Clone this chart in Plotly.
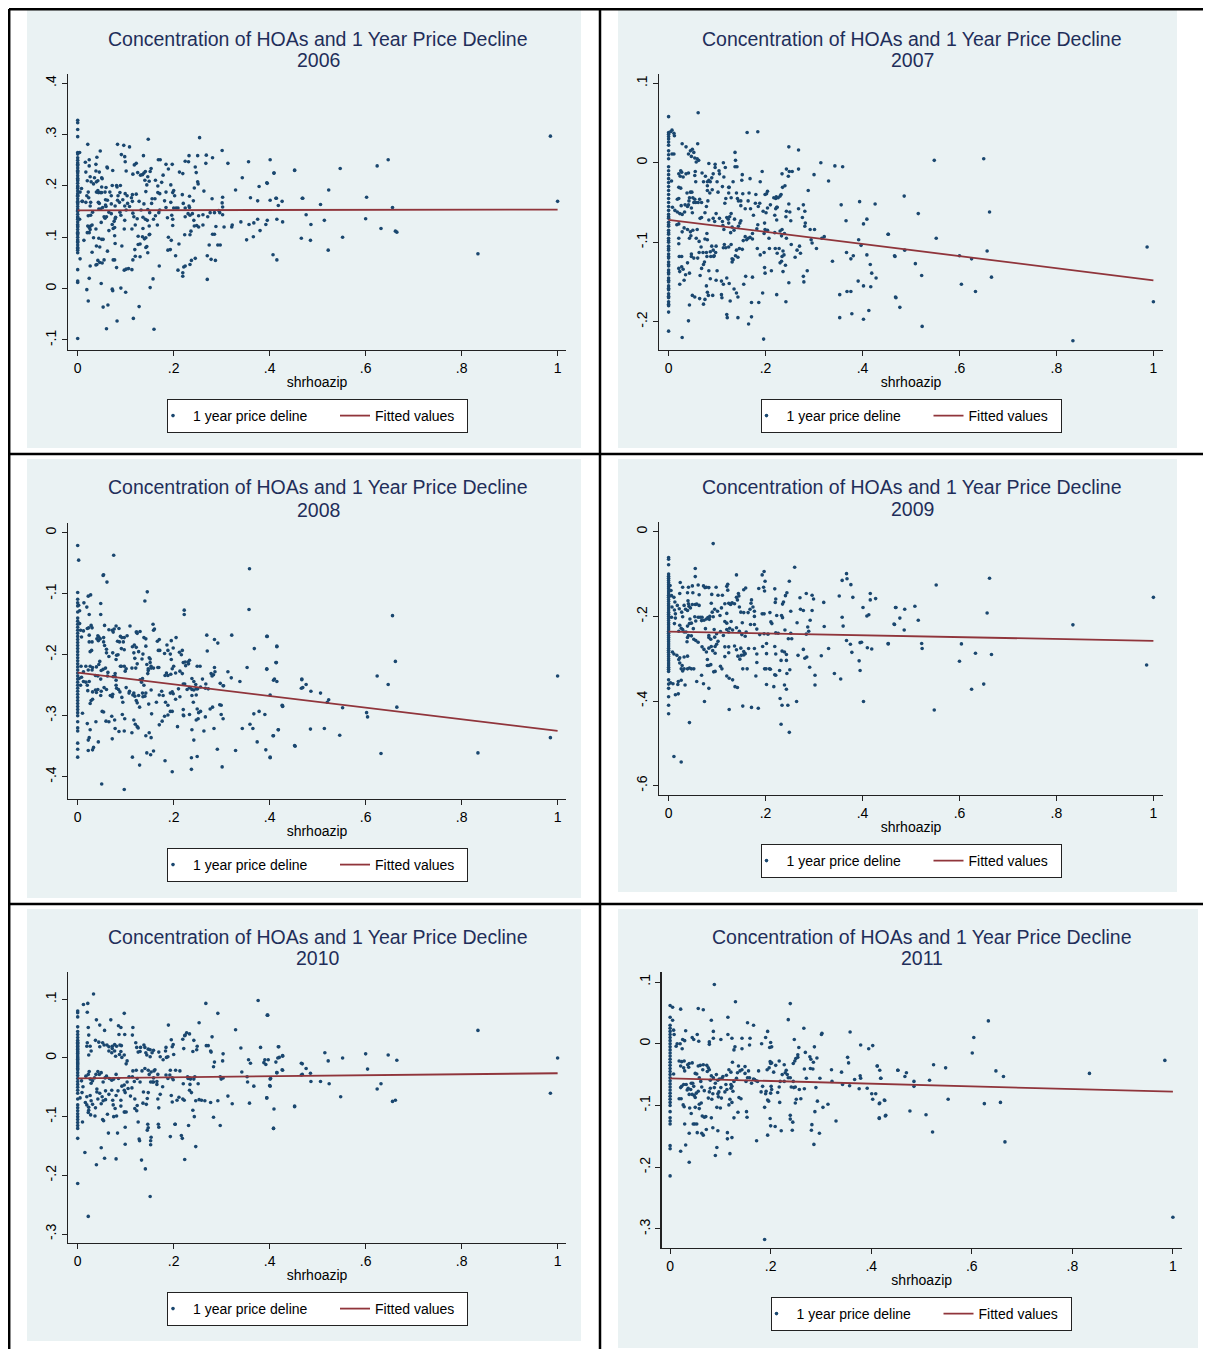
import plotly.graph_objects as go

# page offset: the browser page keeps its default 8 px body margin
PAGE_OFF = 8
W, H = 1211 - PAGE_OFF, 1349 - PAGE_OFF

# ------------------------------------------------------------------ data
years = ["2006", "2007", "2008", "2009", "2010", "2011"]
series_name = "1 year price deline"
fit_name = "Fitted values"

# fitted (OLS) line: value at shrhoazip = 0 and = 1
fit_at0 = [0.1526, -0.0718, -0.2295, -0.236, -0.0346, -0.056]
fit_at1 = [0.154, -0.148, -0.325, -0.2577, -0.026, -0.0777]
fit_x = [0, 1]

xtick_vals = [0, 0.2, 0.4, 0.6, 0.8, 1]
xtick_text = ["0", ".2", ".4", ".6", ".8", "1"]
ytick_vals = [
    [-0.1, 0, 0.1, 0.2, 0.3, 0.4],
    [-0.2, -0.1, 0, 0.1],
    [-0.4, -0.3, -0.2, -0.1, 0],
    [-0.6, -0.4, -0.2, 0],
    [-0.3, -0.2, -0.1, 0, 0.1],
    [-0.3, -0.2, -0.1, 0, 0.1],
]
ytick_text = [
    ["-.1", "0", ".1", ".2", ".3", ".4"],
    ["-.2", "-.1", "0", ".1"],
    ["-.4", "-.3", "-.2", "-.1", "0"],
    ["-.6", "-.4", "-.2", "0"],
    ["-.3", "-.2", "-.1", "0", ".1"],
    ["-.3", "-.2", "-.1", "0", ".1"],
]

# price decline of the zips whose shrhoazip is 0
at0_2006 = [0.328, 0.323, 0.31, 0.296, 0.265, 0.262, 0.255, 0.25, 0.245, 0.242, 0.24, 0.235, 0.23, 0.228,
            0.225, 0.22, 0.215, 0.212, 0.21, 0.205, 0.2, 0.198, 0.195, 0.19, 0.185, 0.182, 0.18, 0.175, 0.17,
            0.168, 0.165, 0.16, 0.155, 0.152, 0.15, 0.145, 0.14, 0.138, 0.135, 0.13, 0.125, 0.122, 0.12, 0.115,
            0.11, 0.108, 0.105, 0.1, 0.095, 0.092, 0.09, 0.085, 0.08, 0.078, 0.075, 0.07, 0.037, 0.015, 0.012,
            -0.097]
at0_2007 = [0.058, 0.038, 0.036, 0.033, 0.03, 0.026, 0.022, 0.015, 0.01, 0.005, -0.005, -0.01, -0.015, -0.02,
            -0.025, -0.03, -0.035, -0.04, -0.045, -0.05, -0.055, -0.06, -0.065, -0.068, -0.07, -0.075, -0.078,
            -0.08, -0.085, -0.088, -0.09, -0.095, -0.098, -0.1, -0.105, -0.108, -0.11, -0.115, -0.118, -0.12,
            -0.125, -0.128, -0.13, -0.135, -0.138, -0.14, -0.145, -0.148, -0.15, -0.155, -0.158, -0.16, -0.165,
            -0.168, -0.17, -0.175, -0.178, -0.18, -0.188, -0.212]
at0_2008 = [-0.021, -0.098, -0.109, -0.115, -0.12, -0.13, -0.14, -0.145, -0.15, -0.155, -0.16, -0.165, -0.17,
            -0.175, -0.18, -0.185, -0.19, -0.195, -0.2, -0.205, -0.21, -0.215, -0.22, -0.225, -0.23, -0.235,
            -0.24, -0.245, -0.25, -0.255, -0.26, -0.265, -0.27, -0.275, -0.28, -0.285, -0.29, -0.295, -0.3,
            -0.31, -0.32, -0.325, -0.345, -0.355, -0.368]
at0_2009 = [-0.061, -0.065, -0.078, -0.1, -0.105, -0.11, -0.115, -0.12, -0.125, -0.13, -0.135, -0.14, -0.145,
            -0.15, -0.155, -0.16, -0.165, -0.17, -0.175, -0.18, -0.185, -0.19, -0.195, -0.2, -0.205, -0.21,
            -0.215, -0.22, -0.225, -0.23, -0.235, -0.24, -0.245, -0.25, -0.255, -0.26, -0.265, -0.27, -0.275,
            -0.28, -0.285, -0.29, -0.295, -0.3, -0.305, -0.31, -0.315, -0.32, -0.325, -0.33, -0.35, -0.36,
            -0.37, -0.39, -0.41, -0.43]
at0_2010 = [0.08, 0.077, 0.07, 0.053, 0.045, 0.04, 0.035, 0.03, 0.027, 0.025, 0.022, 0.02, 0.017, 0.015, 0.012,
            0.01, 0.008, 0.005, 0.002, 0.0, -0.002, -0.005, -0.008, -0.01, -0.012, -0.015, -0.018, -0.02,
            -0.025, -0.03, -0.035, -0.04, -0.045, -0.05, -0.055, -0.06, -0.07, -0.08, -0.085, -0.09, -0.095,
            -0.1, -0.105, -0.11, -0.115, -0.12, -0.137, -0.214]
at0_2011 = [0.062, 0.043, 0.03, 0.025, 0.02, 0.015, 0.01, 0.005, 0.0, -0.005, -0.01, -0.015, -0.02, -0.025,
            -0.03, -0.035, -0.04, -0.045, -0.05, -0.055, -0.06, -0.065, -0.07, -0.075, -0.08, -0.085, -0.09,
            -0.095, -0.1, -0.11, -0.12, -0.125, -0.13, -0.165, -0.17, -0.214]

# (shrhoazip, 1 year price decline) of the zips whose shrhoazip is above 0
pts2006 = [
    (0.004, 0.265), (0.004, 0.135), (0.005, 0.058), (0.005, 0.188), (0.008, 0.195), (0.009, 0.17), (0.013, 0.094),
    (0.147, 0.291), (0.254, 0.294), (0.021, 0.281), (0.083, 0.281), (0.096, 0.279), (0.108, 0.276), (0.047, 0.268),
    (0.137, 0.259), (0.301, 0.269), (0.091, 0.261), (0.098, 0.257), (0.04, 0.256), (0.268, 0.26), (0.281, 0.255),
    (0.232, 0.259), (0.25, 0.259), (0.224, 0.248), (0.231, 0.247), (0.172, 0.251), (0.168, 0.251), (0.024, 0.251),
    (0.016, 0.246), (0.061, 0.237), (0.062, 0.235), (0.099, 0.247), (0.038, 0.242), (0.024, 0.239), (0.122, 0.244),
    (0.118, 0.241), (0.184, 0.242), (0.197, 0.242), (0.189, 0.233), (0.245, 0.237), (0.267, 0.244), (0.313, 0.244),
    (0.356, 0.247), (0.401, 0.251), (0.452, 0.231), (0.409, 0.225), (0.073, 0.23), (0.038, 0.229), (0.045, 0.227),
    (0.017, 0.227), (0.101, 0.229), (0.153, 0.234), (0.151, 0.228), (0.125, 0.226), (0.138, 0.225), (0.141, 0.228),
    (0.131, 0.221), (0.135, 0.222), (0.146, 0.218), (0.14, 0.211), (0.115, 0.223), (0.212, 0.227), (0.219, 0.224),
    (0.247, 0.226), (0.25, 0.208), (0.251, 0.204), (0.178, 0.221), (0.162, 0.211), (0.149, 0.209), (0.026, 0.218),
    (0.02, 0.21), (0.035, 0.216), (0.039, 0.208), (0.05, 0.216), (0.051, 0.214), (0.028, 0.208), (0.033, 0.204),
    (0.042, 0.21), (0.343, 0.216), (0.378, 0.199), (0.394, 0.206), (0.329, 0.192), (0.263, 0.19), (0.175, 0.207),
    (0.167, 0.2), (0.194, 0.202), (0.144, 0.202), (0.072, 0.201), (0.081, 0.201), (0.089, 0.201), (0.05, 0.198),
    (0.059, 0.197), (0.082, 0.198), (0.022, 0.188), (0.039, 0.188), (0.043, 0.187), (0.047, 0.187), (0.05, 0.187),
    (0.057, 0.188), (0.042, 0.191), (0.067, 0.188), (0.088, 0.187), (0.084, 0.181), (0.099, 0.185), (0.122, 0.184),
    (0.103, 0.181), (0.114, 0.183), (0.142, 0.189), (0.167, 0.187), (0.171, 0.185), (0.184, 0.188), (0.198, 0.187),
    (0.2, 0.191), (0.218, 0.183), (0.202, 0.181), (0.233, 0.18), (0.243, 0.196), (0.241, 0.171), (0.28, 0.175),
    (0.302, 0.178), (0.301, 0.167), (0.302, 0.159), (0.36, 0.177), (0.375, 0.171), (0.401, 0.172), (0.413, 0.176),
    (0.426, 0.17), (0.418, 0.162), (0.468, 0.176), (0.019, 0.181), (0.023, 0.177), (0.01, 0.17), (0.017, 0.168),
    (0.027, 0.168), (0.043, 0.168), (0.045, 0.166), (0.058, 0.173), (0.062, 0.172), (0.058, 0.163), (0.059, 0.16),
    (0.07, 0.181), (0.07, 0.165), (0.083, 0.172), (0.087, 0.168), (0.094, 0.173), (0.104, 0.166), (0.112, 0.177),
    (0.114, 0.17), (0.128, 0.17), (0.138, 0.165), (0.146, 0.154), (0.155, 0.175), (0.161, 0.175), (0.154, 0.166),
    (0.181, 0.171), (0.184, 0.158), (0.194, 0.168), (0.2, 0.157), (0.205, 0.157), (0.209, 0.157), (0.22, 0.166),
    (0.224, 0.157), (0.232, 0.161), (0.233, 0.158), (0.026, 0.161), (0.044, 0.155), (0.048, 0.155), (0.052, 0.158),
    (0.031, 0.149), (0.078, 0.161), (0.088, 0.149), (0.098, 0.161), (0.101, 0.153), (0.108, 0.16), (0.115, 0.147),
    (0.132, 0.153), (0.022, 0.142), (0.027, 0.143), (0.055, 0.14), (0.06, 0.14), (0.057, 0.137), (0.065, 0.149),
    (0.07, 0.146), (0.078, 0.136), (0.079, 0.139), (0.076, 0.131), (0.09, 0.143), (0.098, 0.133), (0.117, 0.14),
    (0.124, 0.136), (0.136, 0.139), (0.141, 0.135), (0.145, 0.133), (0.15, 0.148), (0.158, 0.135), (0.162, 0.142),
    (0.169, 0.148), (0.171, 0.153), (0.187, 0.138), (0.196, 0.143), (0.198, 0.135), (0.224, 0.14), (0.23, 0.146),
    (0.239, 0.146), (0.234, 0.143), (0.242, 0.133), (0.252, 0.142), (0.261, 0.144), (0.276, 0.148), (0.285, 0.148),
    (0.296, 0.148), (0.294, 0.152), (0.271, 0.14), (0.302, 0.144), (0.305, 0.12), (0.321, 0.12), (0.322, 0.124),
    (0.34, 0.13), (0.357, 0.125), (0.367, 0.128), (0.375, 0.135), (0.38, 0.113), (0.392, 0.125), (0.395, 0.133),
    (0.415, 0.135), (0.427, 0.13), (0.021, 0.122), (0.024, 0.119), (0.027, 0.122), (0.03, 0.124), (0.02, 0.109),
    (0.024, 0.109), (0.026, 0.115), (0.038, 0.116), (0.049, 0.129), (0.065, 0.113), (0.072, 0.125), (0.077, 0.103),
    (0.077, 0.119), (0.074, 0.117), (0.097, 0.116), (0.113, 0.116), (0.12, 0.124), (0.136, 0.117), (0.149, 0.122),
    (0.15, 0.106), (0.166, 0.124), (0.198, 0.123), (0.223, 0.105), (0.234, 0.105), (0.236, 0.112), (0.243, 0.122),
    (0.248, 0.123), (0.252, 0.12), (0.261, 0.124), (0.281, 0.106), (0.285, 0.106), (0.288, 0.121), (0.352, 0.095),
    (0.366, 0.101), (0.466, 0.098), (0.033, 0.099), (0.039, 0.083), (0.044, 0.098), (0.05, 0.096), (0.053, 0.096),
    (0.046, 0.081), (0.078, 0.088), (0.092, 0.083), (0.126, 0.102), (0.126, 0.086), (0.135, 0.101), (0.139, 0.097),
    (0.142, 0.099), (0.142, 0.08), (0.144, 0.082), (0.149, 0.105), (0.13, 0.087), (0.119, 0.076), (0.189, 0.1),
    (0.195, 0.094), (0.193, 0.076), (0.188, 0.075), (0.204, 0.064), (0.211, 0.087), (0.274, 0.085), (0.292, 0.085),
    (0.297, 0.085), (0.03, 0.071), (0.062, 0.073), (0.055, 0.056), (0.042, 0.055), (0.038, 0.046), (0.04, 0.047),
    (0.046, 0.051), (0.051, 0.05), (0.026, 0.044), (0.074, 0.056), (0.077, 0.056), (0.081, 0.041), (0.097, 0.036),
    (0.101, 0.038), (0.106, 0.039), (0.113, 0.037), (0.115, 0.056), (0.12, 0.063), (0.13, 0.062), (0.146, 0.07),
    (0.17, 0.044), (0.209, 0.036), (0.219, 0.031), (0.221, 0.042), (0.224, 0.044), (0.219, 0.024), (0.234, 0.047),
    (0.237, 0.055), (0.245, 0.059), (0.27, 0.064), (0.278, 0.057), (0.287, 0.055), (0.024, 0.02), (0.019, -0.002),
    (0.022, -0.024), (0.049, 0.01), (0.072, -0.001), (0.073, -0.004), (0.09, 0.001), (0.1, -0.007), (0.053, -0.036),
    (0.063, -0.032), (0.06, -0.078), (0.082, -0.063), (0.116, -0.058), (0.128, -0.035), (0.151, 0.002),
    (0.157, 0.019), (0.159, -0.079), (0.27, 0.018),
    (0.985, 0.297), (1.0, 0.17), (0.834, 0.068), (0.647, 0.251), (0.624, 0.239), (0.656, 0.158), (0.662, 0.112),
    (0.665, 0.11), (0.632, 0.117), (0.602, 0.178), (0.6, 0.136), (0.547, 0.234), (0.523, 0.192), (0.506, 0.164),
    (0.514, 0.133), (0.522, 0.075), (0.552, 0.1), (0.485, 0.094), (0.486, 0.125), (0.476, 0.144), (0.469, 0.176),
    (0.452, 0.23), (0.407, 0.066), (0.415, 0.056), (0.395, 0.205), (0.409, 0.225), (0.414, 0.176),
]

pts2007 = [
    (0.061, 0.063), (0.007, 0.041), (0.011, 0.037), (0.012, 0.034), (0.004, 0.039), (0.028, 0.024), (0.036, 0.02),
    (0.045, 0.015), (0.041, 0.011), (0.049, 0.017), (0.052, 0.013), (0.047, 0.008), (0.06, 0.024), (0.054, 0.006),
    (0.059, 0.005), (0.062, 0.003), (0.057, 0.001), (0.007, 0.011), (0.011, 0.011), (0.162, 0.038), (0.184, 0.039),
    (0.137, 0.013), (0.138, 0.003), (0.248, 0.02), (0.268, 0.016), (0.314, 0.0), (0.343, -0.004), (0.359, -0.005),
    (0.33, -0.023), (0.083, -0.001), (0.096, -0.002), (0.096, -0.006), (0.113, 0.0), (0.117, -0.006),
    (0.104, -0.01), (0.137, -0.005), (0.141, -0.005), (0.025, -0.01), (0.027, -0.012), (0.024, -0.017),
    (0.021, -0.014), (0.03, -0.018), (0.036, -0.014), (0.041, -0.013), (0.055, -0.011), (0.069, -0.013),
    (0.076, -0.017), (0.083, -0.022), (0.092, -0.014), (0.089, -0.019), (0.08, -0.024), (0.105, -0.014),
    (0.114, -0.018), (0.124, -0.031), (0.133, -0.024), (0.151, -0.022), (0.152, -0.015), (0.168, -0.02),
    (0.189, -0.024), (0.193, -0.011), (0.234, -0.014), (0.243, -0.008), (0.249, -0.011), (0.255, -0.011),
    (0.247, -0.017), (0.24, -0.029), (0.235, -0.031), (0.232, -0.04), (0.268, -0.008), (0.3, -0.015),
    (0.288, -0.035), (0.204, -0.036), (0.199, -0.04), (0.18, -0.04), (0.185, -0.055), (0.188, -0.051),
    (0.217, -0.044), (0.221, -0.045), (0.222, -0.043), (0.226, -0.044), (0.223, -0.056), (0.248, -0.052),
    (0.25, -0.062), (0.242, -0.068), (0.243, -0.061), (0.268, -0.058), (0.278, -0.053), (0.281, -0.061),
    (0.282, -0.076), (0.281, -0.08), (0.292, -0.084), (0.301, -0.084), (0.276, -0.069), (0.356, -0.053),
    (0.394, -0.049), (0.426, -0.052), (0.366, -0.073), (0.402, -0.077), (0.409, -0.071), (0.453, -0.09),
    (0.466, -0.117), (0.468, -0.169), (0.392, -0.097), (0.397, -0.104), (0.367, -0.113), (0.381, -0.117),
    (0.376, -0.121), (0.409, -0.116), (0.416, -0.128), (0.419, -0.139), (0.428, -0.145), (0.338, -0.124),
    (0.321, -0.093), (0.294, -0.097), (0.296, -0.101), (0.305, -0.108), (0.316, -0.095), (0.353, -0.166),
    (0.368, -0.162), (0.376, -0.162), (0.378, -0.19), (0.402, -0.155), (0.417, -0.156), (0.413, -0.186),
    (0.353, -0.195), (0.402, -0.197), (0.391, -0.149),
    (0.006, -0.023), (0.021, -0.031), (0.025, -0.032), (0.018, -0.046), (0.021, -0.045), (0.008, -0.056),
    (0.013, -0.06), (0.018, -0.062), (0.023, -0.064), (0.028, -0.065), (0.026, -0.054), (0.034, -0.053),
    (0.039, -0.055), (0.033, -0.062), (0.038, -0.038), (0.045, -0.037), (0.048, -0.037), (0.05, -0.044),
    (0.043, -0.044), (0.054, -0.046), (0.052, -0.05), (0.056, -0.05), (0.042, -0.048), (0.041, -0.053),
    (0.047, -0.057), (0.049, -0.063), (0.061, -0.05), (0.064, -0.046), (0.068, -0.05), (0.056, -0.024),
    (0.054, -0.016), (0.072, -0.024), (0.08, -0.029), (0.086, -0.024), (0.08, -0.035), (0.085, -0.038),
    (0.09, -0.034), (0.1, -0.024), (0.102, -0.037), (0.111, -0.03), (0.118, -0.045), (0.116, -0.051),
    (0.125, -0.031), (0.124, -0.038), (0.129, -0.044), (0.14, -0.038), (0.142, -0.045), (0.144, -0.048),
    (0.149, -0.048), (0.149, -0.054), (0.153, -0.039), (0.158, -0.058), (0.166, -0.038), (0.164, -0.048),
    (0.169, -0.058), (0.175, -0.066), (0.179, -0.051), (0.195, -0.061), (0.201, -0.063), (0.204, -0.057),
    (0.202, -0.039), (0.21, -0.053), (0.221, -0.058), (0.219, -0.066), (0.223, -0.072), (0.224, -0.056),
    (0.23, -0.042), (0.081, -0.048), (0.078, -0.055), (0.075, -0.063), (0.068, -0.069), (0.065, -0.07),
    (0.083, -0.072), (0.092, -0.07), (0.098, -0.064), (0.095, -0.074), (0.105, -0.07), (0.111, -0.074),
    (0.12, -0.069), (0.123, -0.071), (0.129, -0.064), (0.126, -0.068), (0.124, -0.076), (0.112, -0.079),
    (0.114, -0.084), (0.131, -0.081), (0.147, -0.076), (0.144, -0.08), (0.149, -0.073), (0.136, -0.071),
    (0.128, -0.088), (0.135, -0.085), (0.173, -0.089), (0.182, -0.083), (0.184, -0.078), (0.198, -0.076),
    (0.197, -0.089), (0.199, -0.084), (0.204, -0.085), (0.207, -0.095), (0.219, -0.088), (0.23, -0.086),
    (0.234, -0.084), (0.233, -0.092), (0.239, -0.089), (0.243, -0.095), (0.252, -0.073), (0.017, -0.078),
    (0.021, -0.077), (0.028, -0.087), (0.032, -0.082), (0.021, -0.095), (0.021, -0.102), (0.039, -0.084),
    (0.045, -0.087), (0.043, -0.095), (0.046, -0.092), (0.05, -0.085), (0.059, -0.084), (0.057, -0.095),
    (0.063, -0.099), (0.067, -0.106), (0.075, -0.096), (0.079, -0.089), (0.08, -0.097), (0.089, -0.105),
    (0.092, -0.11), (0.098, -0.105), (0.093, -0.118), (0.097, -0.113), (0.113, -0.107), (0.115, -0.103),
    (0.118, -0.107), (0.124, -0.106), (0.129, -0.103), (0.133, -0.122), (0.131, -0.125), (0.14, -0.11),
    (0.146, -0.108), (0.152, -0.109), (0.154, -0.098), (0.161, -0.097), (0.158, -0.093), (0.164, -0.095),
    (0.168, -0.094), (0.173, -0.096), (0.183, -0.108), (0.189, -0.116), (0.197, -0.113), (0.208, -0.108),
    (0.22, -0.108), (0.224, -0.114), (0.228, -0.108), (0.236, -0.111), (0.234, -0.118), (0.238, -0.116),
    (0.253, -0.103), (0.261, -0.119), (0.265, -0.11), (0.27, -0.105), (0.272, -0.114), (0.286, -0.136),
    (0.278, -0.143), (0.279, -0.15), (0.23, -0.126), (0.233, -0.124), (0.236, -0.137), (0.241, -0.129),
    (0.248, -0.151), (0.198, -0.132), (0.199, -0.139), (0.212, -0.136), (0.173, -0.144), (0.159, -0.143),
    (0.155, -0.153), (0.022, -0.118), (0.027, -0.118), (0.021, -0.133), (0.027, -0.131), (0.023, -0.137),
    (0.03, -0.134), (0.032, -0.148), (0.023, -0.153), (0.035, -0.141), (0.039, -0.126), (0.043, -0.139),
    (0.047, -0.115), (0.047, -0.118), (0.052, -0.12), (0.06, -0.12), (0.063, -0.113), (0.071, -0.113),
    (0.078, -0.113), (0.072, -0.128), (0.068, -0.133), (0.065, -0.142), (0.074, -0.125), (0.079, -0.118),
    (0.086, -0.112), (0.087, -0.118), (0.094, -0.117), (0.083, -0.136), (0.086, -0.146), (0.098, -0.148),
    (0.1, -0.136), (0.109, -0.149), (0.113, -0.153), (0.12, -0.145), (0.125, -0.152), (0.138, -0.117),
    (0.131, -0.121), (0.143, -0.119), (0.078, -0.155), (0.08, -0.163), (0.082, -0.167), (0.075, -0.172),
    (0.072, -0.178), (0.049, -0.167), (0.054, -0.169), (0.064, -0.171), (0.043, -0.179), (0.041, -0.199),
    (0.091, -0.167), (0.109, -0.166), (0.11, -0.17), (0.127, -0.174), (0.14, -0.164), (0.143, -0.169),
    (0.135, -0.159), (0.12, -0.191), (0.121, -0.195), (0.143, -0.195), (0.165, -0.203), (0.171, -0.194),
    (0.171, -0.176), (0.186, -0.176), (0.194, -0.164), (0.196, -0.222), (0.223, -0.166), (0.242, -0.175),
    (0.028, -0.22),
    (0.987, -0.106), (1.0, -0.175), (0.834, -0.224), (0.65, 0.005), (0.548, 0.003), (0.662, -0.062),
    (0.657, -0.111), (0.666, -0.144), (0.633, -0.162), (0.604, -0.153), (0.6, -0.117), (0.625, -0.121),
    (0.552, -0.095), (0.515, -0.064), (0.486, -0.042), (0.453, -0.09), (0.467, -0.118), (0.487, -0.11),
    (0.509, -0.127), (0.522, -0.142), (0.523, -0.206), (0.469, -0.17), (0.477, -0.182),
]

pts2008 = [
    (0.002, -0.045), (0.075, -0.037), (0.053, -0.07), (0.054, -0.069), (0.061, -0.081), (0.002, -0.119),
    (0.004, -0.128), (0.013, -0.115), (0.019, -0.122), (0.022, -0.104), (0.027, -0.102), (0.024, -0.134),
    (0.048, -0.116), (0.048, -0.134), (0.145, -0.097), (0.14, -0.112), (0.222, -0.127), (0.222, -0.134),
    (0.358, -0.059), (0.357, -0.126), (0.004, -0.149), (0.006, -0.16), (0.012, -0.161), (0.02, -0.157),
    (0.023, -0.156), (0.028, -0.152), (0.03, -0.156), (0.024, -0.168), (0.008, -0.171), (0.056, -0.152),
    (0.065, -0.159), (0.072, -0.16), (0.08, -0.153), (0.086, -0.157), (0.074, -0.163), (0.076, -0.158),
    (0.109, -0.153), (0.123, -0.163), (0.13, -0.162), (0.157, -0.15), (0.158, -0.16), (0.16, -0.158),
    (0.024, -0.179), (0.03, -0.179), (0.042, -0.169), (0.04, -0.174), (0.043, -0.177), (0.047, -0.174),
    (0.044, -0.171), (0.026, -0.195), (0.029, -0.193), (0.054, -0.172), (0.054, -0.179), (0.056, -0.185),
    (0.06, -0.191), (0.06, -0.197), (0.065, -0.203), (0.073, -0.197), (0.083, -0.178), (0.087, -0.179),
    (0.091, -0.19), (0.097, -0.192), (0.081, -0.201), (0.084, -0.2), (0.08, -0.208), (0.089, -0.17),
    (0.092, -0.172), (0.097, -0.172), (0.103, -0.169), (0.095, -0.179), (0.114, -0.187), (0.118, -0.184),
    (0.117, -0.197), (0.119, -0.206), (0.122, -0.188), (0.127, -0.195), (0.122, -0.163), (0.124, -0.165),
    (0.138, -0.172), (0.142, -0.174), (0.142, -0.186), (0.136, -0.199), (0.134, -0.207), (0.149, -0.205),
    (0.151, -0.207), (0.151, -0.213), (0.153, -0.219), (0.147, -0.223), (0.147, -0.226), (0.144, -0.216),
    (0.166, -0.178), (0.17, -0.175), (0.168, -0.193), (0.171, -0.193), (0.181, -0.198), (0.186, -0.184),
    (0.188, -0.193), (0.195, -0.177), (0.205, -0.172), (0.199, -0.189), (0.193, -0.199), (0.195, -0.208),
    (0.212, -0.196), (0.218, -0.193), (0.216, -0.2), (0.22, -0.213), (0.224, -0.212), (0.23, -0.212),
    (0.233, -0.209), (0.231, -0.215), (0.225, -0.218), (0.238, -0.239), (0.242, -0.244), (0.246, -0.249),
    (0.249, -0.219), (0.255, -0.219), (0.269, -0.168), (0.285, -0.175), (0.292, -0.181), (0.27, -0.194),
    (0.321, -0.168), (0.353, -0.221), (0.368, -0.19), (0.394, -0.17), (0.394, -0.223), (0.415, -0.186),
    (0.413, -0.213), (0.41, -0.24), (0.313, -0.228), (0.32, -0.238), (0.338, -0.244), (0.285, -0.221),
    (0.286, -0.228), (0.283, -0.233), (0.278, -0.231), (0.28, -0.235), (0.297, -0.247), (0.303, -0.251),
    (0.26, -0.24), (0.267, -0.248), (0.272, -0.256), (0.266, -0.255), (0.007, -0.219), (0.012, -0.228),
    (0.017, -0.219), (0.022, -0.225), (0.026, -0.219), (0.03, -0.225), (0.031, -0.221), (0.039, -0.22),
    (0.044, -0.216), (0.046, -0.211), (0.049, -0.226), (0.048, -0.24), (0.042, -0.235), (0.037, -0.234),
    (0.053, -0.224), (0.058, -0.222), (0.063, -0.229), (0.062, -0.235), (0.074, -0.236), (0.078, -0.236),
    (0.078, -0.231), (0.08, -0.242), (0.089, -0.219), (0.091, -0.219), (0.097, -0.219), (0.101, -0.223),
    (0.099, -0.227), (0.113, -0.222), (0.121, -0.222), (0.124, -0.215), (0.13, -0.241), (0.135, -0.239),
    (0.146, -0.231), (0.138, -0.25), (0.133, -0.245), (0.153, -0.222), (0.158, -0.222), (0.167, -0.221),
    (0.169, -0.221), (0.182, -0.234), (0.185, -0.23), (0.188, -0.234), (0.194, -0.232), (0.197, -0.223),
    (0.2, -0.219), (0.204, -0.23), (0.213, -0.227), (0.218, -0.231), (0.22, -0.248), (0.223, -0.248),
    (0.228, -0.257), (0.234, -0.254), (0.238, -0.257), (0.242, -0.258), (0.247, -0.256), (0.25, -0.256),
    (0.256, -0.253), (0.304, -0.251), (0.003, -0.239), (0.008, -0.237), (0.012, -0.244), (0.006, -0.25),
    (0.017, -0.245), (0.02, -0.25), (0.024, -0.244), (0.031, -0.261), (0.037, -0.258), (0.039, -0.262),
    (0.042, -0.257), (0.021, -0.259), (0.026, -0.28), (0.028, -0.275), (0.031, -0.273), (0.049, -0.26),
    (0.048, -0.267), (0.055, -0.254), (0.06, -0.257), (0.068, -0.267), (0.073, -0.265), (0.072, -0.269),
    (0.08, -0.25), (0.081, -0.255), (0.085, -0.257), (0.088, -0.261), (0.092, -0.27), (0.094, -0.278),
    (0.101, -0.254), (0.107, -0.263), (0.108, -0.26), (0.115, -0.266), (0.117, -0.263), (0.119, -0.268),
    (0.122, -0.275), (0.124, -0.279), (0.127, -0.267), (0.129, -0.286), (0.135, -0.263), (0.136, -0.269),
    (0.14, -0.268), (0.142, -0.263), (0.148, -0.281), (0.153, -0.258), (0.164, -0.278), (0.17, -0.266),
    (0.175, -0.26), (0.178, -0.267), (0.183, -0.278), (0.188, -0.283), (0.193, -0.263), (0.197, -0.261),
    (0.199, -0.264), (0.204, -0.273), (0.21, -0.256), (0.213, -0.269), (0.22, -0.29), (0.221, -0.3),
    (0.233, -0.254), (0.238, -0.267), (0.241, -0.278), (0.247, -0.266), (0.249, -0.289), (0.252, -0.295),
    (0.256, -0.293), (0.266, -0.302), (0.276, -0.289), (0.281, -0.286), (0.296, -0.282), (0.299, -0.283),
    (0.299, -0.298), (0.303, -0.305), (0.01, -0.296), (0.02, -0.313), (0.026, -0.323), (0.038, -0.31),
    (0.024, -0.336), (0.022, -0.34), (0.031, -0.356), (0.033, -0.352), (0.022, -0.357), (0.043, -0.343),
    (0.051, -0.293), (0.054, -0.294), (0.059, -0.309), (0.065, -0.31), (0.071, -0.301), (0.077, -0.307),
    (0.078, -0.321), (0.086, -0.326), (0.072, -0.338), (0.093, -0.298), (0.098, -0.305), (0.097, -0.325),
    (0.113, -0.328), (0.117, -0.307), (0.12, -0.314), (0.124, -0.318), (0.126, -0.32), (0.114, -0.368),
    (0.129, -0.381), (0.142, -0.333), (0.144, -0.361), (0.149, -0.328), (0.153, -0.336), (0.152, -0.364),
    (0.158, -0.358), (0.154, -0.297), (0.17, -0.315), (0.176, -0.309), (0.181, -0.301), (0.188, -0.299),
    (0.182, -0.374), (0.193, -0.293), (0.197, -0.293), (0.208, -0.318), (0.22, -0.299), (0.233, -0.298),
    (0.238, -0.323), (0.242, -0.34), (0.247, -0.307), (0.251, -0.305), (0.263, -0.325), (0.284, -0.321),
    (0.291, -0.355), (0.301, -0.384), (0.237, -0.369), (0.249, -0.367), (0.197, -0.392), (0.237, -0.388),
    (0.05, -0.412), (0.097, -0.421), (0.329, -0.357), (0.343, -0.321), (0.365, -0.321), (0.359, -0.314),
    (0.367, -0.297), (0.378, -0.293), (0.374, -0.343), (0.39, -0.298), (0.392, -0.356), (0.401, -0.368),
    (0.408, -0.333), (0.418, -0.323), (0.453, -0.35), (0.467, -0.241), (0.469, -0.254), (0.426, -0.283),
    (0.427, -0.285),
    (1.0, -0.235), (0.985, -0.336), (0.834, -0.361), (0.656, -0.136), (0.662, -0.211), (0.624, -0.235),
    (0.647, -0.249), (0.665, -0.286), (0.632, -0.362), (0.602, -0.295), (0.604, -0.302), (0.552, -0.287),
    (0.546, -0.332), (0.523, -0.274), (0.52, -0.278), (0.506, -0.263), (0.514, -0.321), (0.486, -0.26),
    (0.485, -0.322), (0.476, -0.249), (0.467, -0.24), (0.466, -0.255), (0.452, -0.349), (0.427, -0.284),
    (0.418, -0.323), (0.415, -0.187), (0.414, -0.213), (0.408, -0.242), (0.415, -0.244), (0.407, -0.333),
    (0.401, -0.266), (0.401, -0.369), (0.395, -0.17), (0.394, -0.224),
]

pts2009 = [
    (0.092, -0.028), (0.055, -0.087), (0.055, -0.106), (0.024, -0.12), (0.14, -0.102), (0.193, -0.102),
    (0.197, -0.094), (0.199, -0.117), (0.26, -0.084), (0.249, -0.117), (0.367, -0.099), (0.368, -0.111),
    (0.358, -0.115), (0.376, -0.125), (0.003, -0.127), (0.005, -0.139), (0.023, -0.146), (0.029, -0.131),
    (0.039, -0.144), (0.041, -0.131), (0.049, -0.128), (0.05, -0.144), (0.04, -0.163), (0.041, -0.17),
    (0.061, -0.126), (0.063, -0.149), (0.072, -0.128), (0.075, -0.132), (0.078, -0.131), (0.083, -0.132),
    (0.089, -0.148), (0.088, -0.169), (0.098, -0.131), (0.102, -0.15), (0.111, -0.15), (0.12, -0.129),
    (0.122, -0.124), (0.122, -0.138), (0.126, -0.17), (0.144, -0.146), (0.145, -0.152), (0.14, -0.155),
    (0.155, -0.137), (0.159, -0.133), (0.171, -0.161), (0.186, -0.134), (0.196, -0.131), (0.198, -0.14),
    (0.219, -0.135), (0.221, -0.159), (0.22, -0.167), (0.237, -0.166), (0.241, -0.151), (0.235, -0.171),
    (0.244, -0.144), (0.271, -0.156), (0.278, -0.186), (0.284, -0.146), (0.296, -0.15), (0.299, -0.159),
    (0.32, -0.167), (0.296, -0.186), (0.352, -0.152), (0.358, -0.202), (0.36, -0.223), (0.38, -0.155),
    (0.416, -0.146), (0.416, -0.161), (0.427, -0.158), (0.401, -0.179), (0.413, -0.196), (0.409, -0.199),
    (0.468, -0.179), (0.466, -0.219), (0.453, -0.265), (0.419, -0.277), (0.41, -0.274), (0.398, -0.261),
    (0.395, -0.262), (0.393, -0.305), (0.395, -0.328), (0.402, -0.401), (0.378, -0.285), (0.375, -0.266),
    (0.367, -0.257), (0.355, -0.348), (0.342, -0.335), (0.33, -0.276), (0.315, -0.293), (0.321, -0.224),
    (0.302, -0.339), (0.302, -0.362), (0.291, -0.32), (0.267, -0.292), (0.278, -0.278), (0.281, -0.299),
    (0.285, -0.296), (0.284, -0.242), (0.287, -0.225), (0.289, -0.235), (0.292, -0.209), (0.272, -0.183),
    (0.265, -0.215), (0.252, -0.188), (0.252, -0.24), (0.239, -0.284), (0.243, -0.29), (0.243, -0.304),
    (0.25, -0.326), (0.244, -0.335), (0.232, -0.304), (0.234, -0.282), (0.229, -0.328), (0.221, -0.339),
    (0.239, -0.362), (0.243, -0.372), (0.217, -0.366), (0.23, -0.394), (0.234, -0.41), (0.246, -0.41),
    (0.232, -0.455), (0.249, -0.474), (0.264, -0.401), (0.185, -0.417), (0.171, -0.415), (0.153, -0.412),
    (0.125, -0.42), (0.074, -0.401), (0.043, -0.451), (0.011, -0.531), (0.026, -0.544), (0.009, -0.359),
    (0.004, -0.357), (0.014, -0.385), (0.02, -0.383), (0.02, -0.354), (0.026, -0.351), (0.034, -0.362),
    (0.019, -0.361), (0.029, -0.329), (0.032, -0.324), (0.039, -0.324), (0.043, -0.322), (0.047, -0.324),
    (0.052, -0.324), (0.058, -0.354), (0.068, -0.339), (0.072, -0.359), (0.083, -0.37), (0.006, -0.151),
    (0.011, -0.155), (0.013, -0.166), (0.007, -0.178), (0.012, -0.185), (0.018, -0.174), (0.014, -0.194),
    (0.022, -0.182), (0.027, -0.19), (0.032, -0.174), (0.035, -0.183), (0.039, -0.186), (0.042, -0.176),
    (0.045, -0.18), (0.049, -0.172), (0.055, -0.172), (0.058, -0.171), (0.063, -0.174), (0.029, -0.201),
    (0.023, -0.221), (0.026, -0.228), (0.029, -0.231), (0.021, -0.235), (0.032, -0.237), (0.006, -0.202),
    (0.014, -0.204), (0.012, -0.217), (0.044, -0.206), (0.043, -0.217), (0.047, -0.216), (0.039, -0.223),
    (0.036, -0.237), (0.051, -0.229), (0.054, -0.201), (0.056, -0.211), (0.061, -0.202), (0.065, -0.202),
    (0.069, -0.202), (0.068, -0.21), (0.073, -0.209), (0.078, -0.206), (0.081, -0.203), (0.084, -0.207),
    (0.085, -0.2), (0.076, -0.229), (0.083, -0.245), (0.083, -0.25), (0.087, -0.254), (0.092, -0.201),
    (0.09, -0.19), (0.095, -0.183), (0.101, -0.188), (0.106, -0.198), (0.109, -0.18), (0.116, -0.17),
    (0.12, -0.193), (0.124, -0.169), (0.128, -0.172), (0.131, -0.168), (0.136, -0.17), (0.142, -0.161),
    (0.146, -0.178), (0.149, -0.19), (0.152, -0.215), (0.155, -0.191), (0.164, -0.191), (0.168, -0.183),
    (0.174, -0.178), (0.17, -0.169), (0.116, -0.212), (0.12, -0.216), (0.129, -0.212), (0.126, -0.228),
    (0.132, -0.232), (0.14, -0.227), (0.146, -0.235), (0.151, -0.243), (0.158, -0.247), (0.16, -0.237),
    (0.177, -0.219), (0.182, -0.23), (0.188, -0.243), (0.197, -0.241), (0.205, -0.242), (0.209, -0.191),
    (0.211, -0.213), (0.213, -0.217), (0.221, -0.239), (0.226, -0.24), (0.223, -0.198), (0.233, -0.198),
    (0.235, -0.203), (0.24, -0.232), (0.247, -0.253), (0.254, -0.253), (0.193, -0.194), (0.197, -0.194),
    (0.177, -0.2), (0.177, -0.188), (0.169, -0.219), (0.094, -0.231), (0.099, -0.241), (0.107, -0.236),
    (0.113, -0.245), (0.12, -0.231), (0.124, -0.237), (0.095, -0.249), (0.099, -0.266), (0.096, -0.271),
    (0.102, -0.259), (0.039, -0.25), (0.041, -0.245), (0.038, -0.26), (0.047, -0.246), (0.052, -0.254),
    (0.056, -0.257), (0.061, -0.261), (0.069, -0.272), (0.073, -0.278), (0.078, -0.284), (0.083, -0.275),
    (0.088, -0.271), (0.091, -0.281), (0.096, -0.287), (0.116, -0.272), (0.124, -0.272), (0.124, -0.286),
    (0.116, -0.295), (0.136, -0.27), (0.14, -0.279), (0.149, -0.275), (0.155, -0.283), (0.155, -0.291),
    (0.15, -0.292), (0.143, -0.294), (0.147, -0.301), (0.158, -0.288), (0.165, -0.276), (0.177, -0.276),
    (0.182, -0.289), (0.182, -0.309), (0.194, -0.271), (0.202, -0.264), (0.202, -0.288), (0.219, -0.271),
    (0.221, -0.289), (0.017, -0.292), (0.011, -0.289), (0.008, -0.284), (0.023, -0.298), (0.032, -0.296),
    (0.039, -0.294), (0.023, -0.31), (0.021, -0.302), (0.028, -0.316), (0.026, -0.324), (0.08, -0.316),
    (0.083, -0.316), (0.087, -0.314), (0.08, -0.302), (0.093, -0.331), (0.096, -0.33), (0.107, -0.318),
    (0.11, -0.324), (0.12, -0.341), (0.125, -0.346), (0.132, -0.35), (0.137, -0.366), (0.142, -0.368),
    (0.153, -0.324), (0.162, -0.324), (0.18, -0.341), (0.198, -0.324), (0.201, -0.324), (0.208, -0.324),
    (0.21, -0.325), (0.202, -0.361), (0.219, -0.338),
    (1.0, -0.155), (0.986, -0.315), (0.834, -0.22), (0.662, -0.11), (0.657, -0.192), (0.666, -0.29),
    (0.633, -0.287), (0.65, -0.36), (0.625, -0.372), (0.604, -0.265), (0.6, -0.306), (0.552, -0.126),
    (0.548, -0.421), (0.523, -0.276), (0.522, -0.264), (0.515, -0.209), (0.508, -0.176), (0.487, -0.183),
    (0.486, -0.232), (0.477, -0.204), (0.469, -0.179), (0.465, -0.218), (0.453, -0.264),
]

pts2010 = [
    (0.033, 0.109), (0.012, 0.091), (0.021, 0.093), (0.02, 0.078), (0.039, 0.065), (0.069, 0.065), (0.097, 0.076),
    (0.046, 0.056), (0.056, 0.047), (0.022, 0.052), (0.023, 0.039), (0.085, 0.055), (0.09, 0.052), (0.115, 0.052),
    (0.114, 0.039), (0.098, 0.04), (0.086, 0.04), (0.037, 0.03), (0.044, 0.027), (0.052, 0.026), (0.046, 0.019),
    (0.055, 0.022), (0.02, 0.026), (0.019, 0.02), (0.026, 0.02), (0.028, 0.012), (0.023, 0.005), (0.061, 0.022),
    (0.065, 0.019), (0.072, 0.02), (0.077, 0.023), (0.081, 0.02), (0.088, 0.022), (0.091, 0.021), (0.065, 0.012),
    (0.072, 0.016), (0.071, 0.009), (0.077, 0.012), (0.079, 0.003), (0.087, 0.006), (0.09, 0.011), (0.092, 0.001),
    (0.097, 0.005), (0.101, -0.01), (0.103, -0.005), (0.121, 0.026), (0.123, 0.018), (0.126, 0.01), (0.13, 0.011),
    (0.131, 0.018), (0.138, 0.022), (0.14, 0.018), (0.142, 0.009), (0.147, 0.015), (0.151, 0.014), (0.158, 0.013),
    (0.155, 0.009), (0.144, 0.005), (0.151, 0.002), (0.169, 0.01), (0.172, 0.002), (0.178, -0.003), (0.185, 0.001),
    (0.188, 0.002), (0.184, 0.018), (0.183, 0.012), (0.189, 0.056), (0.195, 0.031), (0.199, 0.023), (0.197, 0.019),
    (0.2, 0.006), (0.204, -0.021), (0.213, -0.022), (0.219, 0.032), (0.223, 0.038), (0.224, 0.039), (0.221, 0.016),
    (0.227, 0.043), (0.233, 0.041), (0.242, 0.03), (0.249, 0.02), (0.248, 0.014), (0.24, 0.011), (0.253, 0.06),
    (0.267, 0.093), (0.292, 0.076), (0.329, 0.048), (0.28, 0.036), (0.272, 0.021), (0.277, 0.012), (0.278, 0.01),
    (0.268, 0.021), (0.303, 0.007), (0.302, -0.005), (0.285, -0.007), (0.283, -0.015), (0.34, 0.017),
    (0.356, -0.003), (0.36, -0.009), (0.381, 0.018), (0.376, 0.098), (0.396, 0.073), (0.418, 0.019), (0.42, 0.001),
    (0.427, 0.004), (0.413, -0.007), (0.415, -0.025), (0.427, -0.021), (0.39, -0.003), (0.392, -0.011),
    (0.397, -0.003), (0.468, -0.01), (0.466, -0.029), (0.452, -0.082), (0.408, -0.12), (0.401, -0.036),
    (0.401, -0.048), (0.394, -0.068), (0.367, -0.048), (0.358, -0.077), (0.353, -0.032), (0.354, -0.041),
    (0.342, -0.024), (0.313, -0.065), (0.322, -0.078), (0.297, -0.032), (0.299, -0.036), (0.303, -0.034),
    (0.292, -0.073), (0.283, -0.101), (0.297, -0.115), (0.277, -0.076), (0.265, -0.073), (0.258, -0.072),
    (0.253, -0.071), (0.246, -0.073), (0.24, -0.089), (0.243, -0.1), (0.251, -0.044), (0.242, -0.036),
    (0.244, -0.032), (0.235, -0.036), (0.233, -0.034), (0.234, -0.045), (0.233, -0.055), (0.237, -0.059),
    (0.229, -0.032), (0.23, -0.035), (0.22, -0.044), (0.222, -0.072), (0.211, -0.067), (0.203, -0.113),
    (0.193, -0.021), (0.192, -0.029), (0.197, -0.034), (0.199, -0.037), (0.184, -0.029), (0.188, -0.035),
    (0.177, -0.049), (0.165, -0.04), (0.158, -0.041), (0.156, -0.041), (0.149, -0.028), (0.147, -0.021),
    (0.167, -0.028), (0.161, -0.02), (0.159, -0.022), (0.153, -0.024), (0.14, -0.018), (0.134, -0.022),
    (0.13, -0.041), (0.124, -0.035), (0.122, -0.021), (0.115, -0.022), (0.114, -0.032), (0.118, -0.04),
    (0.107, -0.032), (0.103, -0.041), (0.113, -0.051), (0.105, -0.052), (0.097, -0.055), (0.099, -0.059),
    (0.097, -0.046), (0.092, -0.048), (0.085, -0.035), (0.08, -0.028), (0.075, -0.036), (0.071, -0.038),
    (0.066, -0.035), (0.06, -0.031), (0.057, -0.034), (0.053, -0.041), (0.049, -0.025), (0.045, -0.028),
    (0.042, -0.023), (0.038, -0.028), (0.035, -0.034), (0.031, -0.039), (0.028, -0.043), (0.026, -0.036),
    (0.024, -0.023), (0.022, -0.028), (0.017, -0.031), (0.011, -0.049), (0.009, -0.059), (0.008, -0.039),
    (0.005, -0.068), (0.019, -0.066), (0.026, -0.064), (0.028, -0.073), (0.023, -0.084), (0.031, -0.079),
    (0.037, -0.085), (0.016, -0.076), (0.019, -0.08), (0.023, -0.089), (0.022, -0.093), (0.027, -0.097),
    (0.036, -0.099), (0.04, -0.058), (0.046, -0.06), (0.042, -0.07), (0.04, -0.053), (0.049, -0.078),
    (0.051, -0.066), (0.053, -0.073), (0.058, -0.071), (0.058, -0.056), (0.065, -0.062), (0.071, -0.055),
    (0.073, -0.072), (0.074, -0.08), (0.078, -0.086), (0.062, -0.096), (0.054, -0.107), (0.052, -0.105),
    (0.075, -0.1), (0.081, -0.099), (0.097, -0.092), (0.098, -0.092), (0.101, -0.092), (0.08, -0.064),
    (0.084, -0.056), (0.09, -0.072), (0.09, -0.082), (0.11, -0.065), (0.119, -0.07), (0.119, -0.086),
    (0.123, -0.09), (0.124, -0.081), (0.136, -0.077), (0.143, -0.079), (0.145, -0.069), (0.126, -0.109),
    (0.137, -0.058), (0.147, -0.059), (0.152, -0.041), (0.158, -0.034), (0.165, -0.045), (0.167, -0.07),
    (0.169, -0.085), (0.172, -0.062), (0.195, -0.064), (0.197, -0.075), (0.207, -0.072), (0.219, -0.07),
    (0.01, -0.109), (0.015, -0.161), (0.039, -0.182), (0.049, -0.153), (0.056, -0.171), (0.064, -0.128),
    (0.08, -0.172), (0.083, -0.128), (0.099, -0.118), (0.099, -0.147), (0.129, -0.141), (0.128, -0.138),
    (0.133, -0.174), (0.141, -0.189), (0.146, -0.113), (0.147, -0.119), (0.145, -0.123), (0.153, -0.135),
    (0.152, -0.141), (0.152, -0.148), (0.168, -0.113), (0.169, -0.118), (0.193, -0.134), (0.203, -0.113),
    (0.216, -0.132), (0.218, -0.137), (0.223, -0.173), (0.231, -0.115), (0.246, -0.151), (0.151, -0.236),
    (0.022, -0.27),
    (0.834, 0.047), (1.0, 0.0), (0.985, -0.06), (0.647, 0.005), (0.665, -0.004), (0.656, -0.074), (0.662, -0.072),
    (0.632, -0.044), (0.624, -0.053), (0.6, 0.007), (0.604, -0.019), (0.552, 0.0), (0.548, -0.066),
    (0.515, 0.009), (0.522, -0.005), (0.506, -0.04), (0.524, -0.044), (0.486, -0.04), (0.485, -0.026),
    (0.476, -0.018), (0.466, -0.009), (0.468, -0.028), (0.452, -0.083), (0.427, 0.003), (0.426, -0.02),
    (0.417, 0.0), (0.419, 0.019), (0.415, -0.025), (0.409, -0.087), (0.408, -0.12), (0.402, -0.035),
    (0.4, -0.047), (0.395, 0.073), (0.394, -0.068), (0.388, -0.008),
]

pts2011 = [
    (0.088, 0.096), (0.13, 0.068), (0.239, 0.065), (0.005, 0.059), (0.021, 0.056), (0.056, 0.057), (0.066, 0.055),
    (0.005, 0.038), (0.082, 0.038), (0.115, 0.043), (0.154, 0.034), (0.166, 0.03), (0.235, 0.039), (0.007, 0.022),
    (0.008, 0.015), (0.031, 0.021), (0.014, 0.0), (0.012, -0.004), (0.02, 0.0), (0.025, 0.007), (0.029, 0.005),
    (0.024, -0.008), (0.044, 0.01), (0.047, 0.007), (0.057, 0.004), (0.054, 0.015), (0.078, 0.003), (0.086, 0.02),
    (0.086, 0.009), (0.078, -0.001), (0.101, 0.007), (0.115, 0.015), (0.123, 0.009), (0.127, -0.01),
    (0.129, -0.005), (0.143, 0.009), (0.143, -0.008), (0.159, 0.009), (0.158, -0.002), (0.182, 0.0), (0.19, 0.01),
    (0.194, 0.02), (0.2, 0.002), (0.198, -0.006), (0.202, -0.005), (0.247, 0.007), (0.256, -0.006), (0.266, 0.025),
    (0.269, -0.014), (0.287, -0.005), (0.301, 0.015), (0.302, 0.017), (0.292, -0.023), (0.358, 0.019),
    (0.379, -0.002), (0.395, -0.008), (0.403, -0.003), (0.412, -0.036), (0.417, -0.043), (0.419, -0.056),
    (0.453, -0.043), (0.401, -0.081), (0.409, -0.081), (0.403, -0.09), (0.416, -0.097), (0.427, -0.092),
    (0.416, -0.121), (0.428, -0.117), (0.392, -0.072), (0.376, -0.073), (0.343, -0.066), (0.357, -0.068),
    (0.353, -0.022), (0.355, -0.031), (0.367, -0.058), (0.378, -0.052), (0.379, -0.056), (0.341, -0.046),
    (0.321, -0.042), (0.322, -0.061), (0.33, -0.125), (0.314, -0.098), (0.304, -0.103), (0.298, -0.056),
    (0.29, -0.071), (0.293, -0.093), (0.282, -0.131), (0.286, -0.163), (0.297, -0.145), (0.288, -0.11),
    (0.281, -0.14), (0.267, -0.041), (0.271, -0.056), (0.279, -0.04), (0.284, -0.041), (0.278, -0.021),
    (0.28, -0.025), (0.285, -0.03), (0.267, -0.073), (0.26, -0.089), (0.257, -0.074), (0.249, -0.07),
    (0.251, -0.09), (0.249, -0.096), (0.239, -0.116), (0.244, -0.127), (0.243, -0.14), (0.239, -0.122),
    (0.241, -0.07), (0.246, -0.071), (0.245, -0.061), (0.245, -0.032), (0.248, -0.028), (0.25, -0.024),
    (0.254, -0.022), (0.254, -0.018), (0.231, -0.043), (0.229, -0.047), (0.233, -0.05), (0.235, -0.055),
    (0.239, -0.055), (0.227, -0.061), (0.227, -0.034), (0.217, -0.028), (0.21, -0.035), (0.206, -0.046),
    (0.199, -0.029), (0.2, -0.032), (0.197, -0.039), (0.193, -0.042), (0.202, -0.031), (0.223, -0.05),
    (0.219, -0.061), (0.217, -0.07), (0.214, -0.079), (0.221, -0.141), (0.218, -0.095), (0.202, -0.074),
    (0.201, -0.069), (0.2, -0.08), (0.191, -0.077), (0.19, -0.081), (0.196, -0.093), (0.194, -0.091),
    (0.188, -0.103), (0.199, -0.121), (0.2, -0.133), (0.209, -0.134), (0.194, -0.148), (0.172, -0.157),
    (0.181, -0.078), (0.184, -0.069), (0.176, -0.044), (0.171, -0.06), (0.174, -0.061), (0.168, -0.058),
    (0.166, -0.057), (0.162, -0.064), (0.158, -0.055), (0.156, -0.044), (0.154, -0.055), (0.151, -0.061),
    (0.149, -0.048), (0.149, -0.037), (0.143, -0.042), (0.139, -0.044), (0.136, -0.036), (0.134, -0.047),
    (0.132, -0.056), (0.127, -0.061), (0.124, -0.03), (0.121, -0.046), (0.117, -0.042), (0.121, -0.066),
    (0.123, -0.069), (0.121, -0.072), (0.125, -0.077), (0.112, -0.051), (0.111, -0.066), (0.113, -0.074),
    (0.109, -0.078), (0.137, -0.087), (0.141, -0.089), (0.119, -0.09), (0.123, -0.095), (0.117, -0.099),
    (0.105, -0.053), (0.103, -0.056), (0.098, -0.057), (0.095, -0.059), (0.092, -0.05), (0.101, -0.071),
    (0.097, -0.078), (0.095, -0.081), (0.096, -0.086), (0.102, -0.088), (0.086, -0.055), (0.082, -0.052),
    (0.08, -0.059), (0.09, -0.064), (0.088, -0.071), (0.08, -0.072), (0.078, -0.078), (0.085, -0.081),
    (0.076, -0.088), (0.083, -0.09), (0.093, -0.103), (0.1, -0.104), (0.074, -0.045), (0.078, -0.042),
    (0.061, -0.061), (0.058, -0.055), (0.053, -0.049), (0.05, -0.048), (0.073, -0.035), (0.076, -0.039),
    (0.065, -0.042), (0.066, -0.034), (0.06, -0.035), (0.056, -0.036), (0.044, -0.031), (0.038, -0.032),
    (0.035, -0.034), (0.037, -0.038), (0.027, -0.039), (0.021, -0.036), (0.018, -0.028), (0.023, -0.029),
    (0.028, -0.028), (0.029, -0.044), (0.042, -0.064), (0.045, -0.064), (0.047, -0.069), (0.041, -0.074),
    (0.044, -0.082), (0.032, -0.066), (0.027, -0.066), (0.023, -0.069), (0.021, -0.071), (0.036, -0.072),
    (0.052, -0.08), (0.05, -0.087), (0.048, -0.084), (0.056, -0.077), (0.063, -0.07), (0.068, -0.076),
    (0.058, -0.098), (0.062, -0.096), (0.058, -0.105), (0.028, -0.102), (0.026, -0.099), (0.039, -0.104),
    (0.042, -0.113), (0.05, -0.103), (0.068, -0.119), (0.071, -0.118), (0.064, -0.117), (0.082, -0.12),
    (0.072, -0.139), (0.085, -0.136), (0.095, -0.141), (0.063, -0.145), (0.066, -0.148), (0.054, -0.144),
    (0.038, -0.145), (0.046, -0.13), (0.049, -0.13), (0.053, -0.13), (0.029, -0.13), (0.038, -0.082),
    (0.034, -0.075), (0.018, -0.089), (0.022, -0.089), (0.007, -0.049), (0.127, -0.12), (0.135, -0.111),
    (0.152, -0.11), (0.153, -0.119), (0.114, -0.144), (0.114, -0.154), (0.123, -0.152), (0.119, -0.178),
    (0.093, -0.168), (0.09, -0.181), (0.038, -0.192), (0.021, -0.174), (0.031, -0.164), (0.188, -0.317),
    (1.0, -0.281), (0.984, -0.027), (0.834, -0.048), (0.633, 0.037), (0.604, 0.01), (0.601, -0.015),
    (0.648, -0.044), (0.663, -0.053), (0.657, -0.095), (0.625, -0.097), (0.666, -0.159), (0.548, -0.039),
    (0.524, -0.034), (0.516, -0.059), (0.553, -0.09), (0.509, -0.115), (0.522, -0.143), (0.485, -0.069),
    (0.485, -0.061), (0.477, -0.109), (0.467, -0.053), (0.47, -0.047), (0.453, -0.043), (0.426, -0.091),
    (0.429, -0.116), (0.416, -0.12), (0.419, -0.056), (0.417, -0.096), (0.412, -0.036),
]

at0_all = [at0_2006, at0_2007, at0_2008, at0_2009, at0_2010, at0_2011]
pts_all = [pts2006, pts2007, pts2008, pts2009, pts2010, pts2011]

# ------------------------------------------------------------------ geometry (window pixels)
panels = [
    dict(plot=(68, 566, 74, 350), bg=(27, 581, 10, 448), tcx=318, ty=(39, 60), lcx=317.5, lt=399,
         xr=(-0.0202, 1.0175), yr=(-0.1195, 0.418)),
    dict(plot=(659, 1163, 74, 350), bg=(618, 1177, 10, 448), tcx=912, ty=(39, 60), lcx=911, lt=399,
         xr=(-0.0198, 1.0198), yr=(-0.2357, 0.1117)),
    dict(plot=(68, 566, 523, 799), bg=(27, 581, 459, 898), tcx=318, ty=(487, 510), lcx=317.5, lt=848,
         xr=(-0.0202, 1.0175), yr=(-0.4366, 0.0159)),
    dict(plot=(659, 1163, 522, 795), bg=(618, 1177, 459, 892), tcx=912, ty=(487, 509), lcx=911, lt=844,
         xr=(-0.0198, 1.0198), yr=(-0.622, 0.023)),
    dict(plot=(68, 566, 972, 1243), bg=(27, 581, 909, 1341), tcx=318, ty=(937, 958), lcx=317.5, lt=1292,
         xr=(-0.0202, 1.0175), yr=(-0.3153, 0.1465)),
    dict(plot=(661.6, 1181.8, 972, 1248), bg=(618, 1198, 909, 1348), tcx=922, ty=(937, 958), lcx=921, lt=1297,
         xr=(-0.0169, 1.0177), yr=(-0.3308, 0.1162)),
]


def fx(p):
    return (p - PAGE_OFF) / W


def fy(p):
    return 1 - (p - PAGE_OFF) / H


FONT = "Liberation Sans, Arial, Helvetica, sans-serif"
NAVY = "#1A476F"
MAROON = "#90353B"
BG = "#EAF2F3"
TITLE_C = "#1F2E5A"

fig = go.Figure()
layout = dict(
    width=W, height=H, margin=dict(l=0, r=0, t=0, b=0),
    paper_bgcolor="white", plot_bgcolor="white",
    font=dict(family=FONT, size=14, color="black"),
    showlegend=True, shapes=[], annotations=[],
)

for i, yr in enumerate(years):
    k = i + 1
    g = panels[i]
    xs = [0.0] * len(at0_all[i]) + [p[0] for p in pts_all[i]]
    ys = list(at0_all[i]) + [p[1] for p in pts_all[i]]
    xa = "x" if k == 1 else f"x{k}"
    ya = "y" if k == 1 else f"y{k}"
    lg = "legend" if k == 1 else f"legend{k}"
    fig.add_trace(go.Scatter(
        x=xs, y=ys, mode="markers", name=series_name, xaxis=xa, yaxis=ya, legend=lg, legendwidth=152,
        marker=dict(size=3.6, color=NAVY, line=dict(width=0)), hoverinfo="skip"))
    fig.add_trace(go.Scatter(
        x=fit_x, y=[fit_at0[i], fit_at1[i]], mode="lines", name=fit_name, xaxis=xa, yaxis=ya, legend=lg,
        legendwidth=87, line=dict(color=MAROON, width=1.8), hoverinfo="skip"))

    l, r, t, b = g["plot"]
    layout["xaxis" if k == 1 else f"xaxis{k}"] = dict(
        domain=[fx(l), fx(r)], range=list(g["xr"]), anchor=ya,
        tickvals=xtick_vals, ticktext=xtick_text, ticks="outside", ticklen=5, tickwidth=1, tickcolor="#222",
        showline=True, linecolor="#222", linewidth=1.2, showgrid=False, zeroline=False,
        tickfont=dict(family=FONT, size=14, color="black"),
        title=dict(text="shrhoazip", font=dict(family=FONT, size=14, color="black"), standoff=2),
        automargin=False, fixedrange=True)
    layout["yaxis" if k == 1 else f"yaxis{k}"] = dict(
        domain=[fy(b), fy(t)], range=list(g["yr"]), anchor=xa,
        tickvals=ytick_vals[i], ticktext=ytick_text[i], ticks="outside", ticklen=5, tickwidth=1,
        tickcolor="#222", tickangle=-90,
        showline=True, linecolor="#222", linewidth=1.2, showgrid=True, gridcolor=BG, gridwidth=1.6,
        zeroline=False, tickfont=dict(family=FONT, size=14, color="black"),
        automargin=False, fixedrange=True)

    bl, br, bt, bb = g["bg"]
    layout["shapes"].append(dict(type="rect", xref="paper", yref="paper", x0=fx(bl), x1=fx(br),
                                 y0=fy(bb), y1=fy(bt), fillcolor=BG, line=dict(width=0), layer="below"))
    layout["annotations"].append(dict(
        text="Concentration of HOAs and 1 Year Price Decline", xref="paper", yref="paper",
        x=fx(g["tcx"]), y=fy(g["ty"][0]), xanchor="center", yanchor="middle", showarrow=False,
        font=dict(family=FONT, size=19.5, color=TITLE_C)))
    layout["annotations"].append(dict(
        text=yr, xref="paper", yref="paper",
        x=fx(g["tcx"]), y=fy(g["ty"][1]), xanchor="center", yanchor="middle", showarrow=False,
        font=dict(family=FONT, size=19.5, color=TITLE_C)))
    layout[lg] = dict(
        x=fx(g["lcx"]), y=fy(g["lt"]), xanchor="center", yanchor="top", orientation="h",
        bgcolor="white", bordercolor="#222", borderwidth=1, indentation=-15,
        font=dict(family=FONT, size=14, color="black"), itemwidth=30, tracegroupgap=0)

# table borders around the six cells
for (x0, y0, x1, y1) in [(9, 9.2, 1211, 9.2), (9.2, 9, 9.2, 1349), (600, 9, 600, 1349),
                         (9, 454, 1211, 454), (9, 904, 1211, 904)]:
    layout["shapes"].append(dict(type="line", xref="paper", yref="paper", x0=fx(x0), x1=fx(x1),
                                 y0=fy(y0), y1=fy(y1), line=dict(color="black", width=2.5), layer="above"))

fig.update_layout(**layout)
fig.write_html("out.html", include_plotlyjs=True, config={"displayModeBar": False, "staticPlot": True})
